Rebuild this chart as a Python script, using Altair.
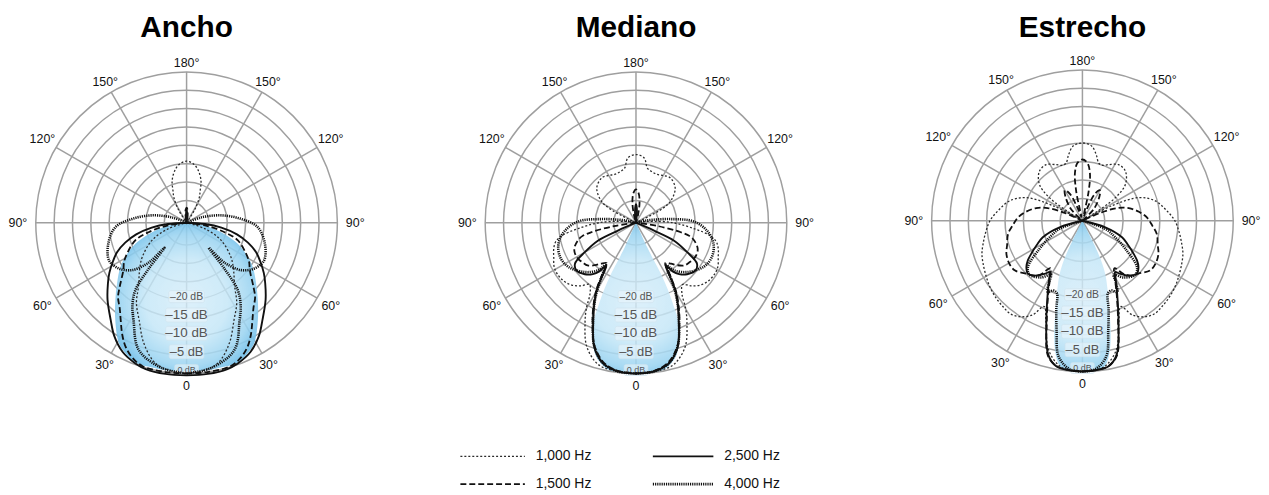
import altair as alt
import pandas as pd

PANELS = ["Ancho", "Mediano", "Estrecho"]
FREQS = ["1,000 Hz", "1,500 Hz", "2,500 Hz", "4,000 Hz"]
RING_DB = [0, -5, -10, -15, -20, -25, -30, -35]
SPOKE_DEG = [0, 30, 60, 90, 120, 150, 180, 210, 240, 270, 300, 330]
SPOKE_LABELS = ["0", "30°", "60°", "90°", "120°", "150°", "180°", "150°", "120°", "90°", "60°", "30°"]
DB_LABEL_VALUES = [0, -5, -10, -15, -20]
DB_LABELS = ["0 dB", "–5 dB", "–10 dB", "–15 dB", "–20 dB"]

# half patterns: (angle in degrees from front, level in dB), 0..180, mirrored for 180..360
ANCHO_1000 = [(0, 0), (6, -0.5), (12.6, -1.9), (19.6, -6.3), (26, -11.6), (32, -15.3), (37, -19.3),
              (45, -23), (52, -25.7), (63, -30.5), (72, -35.9), (80, -42), (90, -42), (140, -42),
              (148, -37), (153, -33.5), (157, -31.6), (161, -29), (167, -26.6), (173, -25), (180, -24.3)]
ANCHO_1500 = [(0, 0), (8, 0), (17, -0.2), (22, -1.5), (26.3, -3.5), (30, -6), (34, -9), (38, -11.5),
              (42.6, -13.5), (46, -15.7), (53, -19.5), (58, -21), (63, -23), (71, -26.3), (76, -30.4),
              (82, -36), (88, -42), (165, -42), (172, -39), (176, -37.5), (180, -37)]
ANCHO_2500 = [(0, 0.5), (8, 0.5), (15.6, 0.3), (20, -0.3), (26.3, -1.8), (32.6, -4.5), (38, -7.5),
              (45.7, -11), (52.3, -14), (57, -16), (62, -18.3), (67, -20.5), (72, -23.5), (77, -27),
              (82, -31.5), (86, -36), (90, -42), (168, -42), (174, -39.5), (180, -37.3)]
ANCHO_4000 = [(0, 0), (10, -1), (20.7, -4.1), (28.6, -10.9), (33, -14), (37.2, -18), (39.5, -25),
              (41.5, -32), (43, -27), (44.5, -25), (49, -21.4), (56, -18.8), (64, -17.6), (75, -19),
              (86.5, -21.7), (94, -26.2), (102, -31.4), (110, -36.8), (118, -42), (180, -42)]

MEDIANO_1000 = [(0, 0), (8, -0.3), (14.9, -1.1), (21.7, -4.8), (26.9, -10.4), (30, -14), (33, -18.1),
                (37, -20), (41, -18.3), (45.8, -16.7), (51, -15.8), (57.2, -15.5), (62, -15.8),
                (67.3, -16.8), (72, -17.5), (76.4, -18.5), (80, -20.5), (84, -25), (90, -31), (97, -38),
                (104, -42), (112, -42), (118, -33), (122.4, -29.8), (131.6, -26.8), (142.5, -25.7),
                (150, -26.2), (156.1, -26.7), (163, -26.5), (168.2, -25.9), (172.8, -23.3), (180, -22.5)]
MEDIANO_1500 = [(0, 0), (7, -0.4), (13, -2), (18.7, -5.8), (23.6, -11.5), (27, -15.5), (30.3, -19.5),
                (33, -24), (36, -27.5), (40.5, -26.4), (44, -25), (48.6, -23.5), (53, -23), (58, -22.5),
                (64, -22.5), (68, -23), (73, -24.5), (76, -26), (78, -28.6), (81.3, -35), (86, -42),
                (160, -42), (165, -39), (170, -35.5), (175, -33), (180, -32)]
MEDIANO_2500 = [(0, 0), (7, -0.3), (13.3, -1.8), (18.7, -5.5), (23.6, -12), (27, -16), (30.3, -20),
                (33.4, -25.7), (35, -27), (37, -24.5), (40, -22.8), (44.8, -21.3), (51.3, -20.3),
                (56.2, -21.1), (60.1, -25), (64.8, -29.6), (66.4, -35.7), (72, -42), (170, -42),
                (175, -38), (180, -36)]
MEDIANO_4000 = [(0, 0), (7, -0.3), (13.3, -1.8), (18.7, -5.6), (23.6, -11.8), (27, -16), (30.3, -20.5),
                (33, -24.5), (35.5, -27), (38.6, -24.5), (46.1, -21.7), (56.8, -19.1), (65.6, -18.4),
                (74.8, -19.2), (83.6, -21.6), (91.3, -25.4), (96, -31.6), (102, -38), (108, -42), (180, -42)]

ESTRECHO_1000 = [(0, 0), (6, -0.3), (10, -1.5), (15, -5), (20, -12), (24, -15.5), (28, -12), (33.3, -9.8),
                 (38, -9), (42.7, -9.2), (48, -9.5), (54.5, -10.1), (60, -10.8), (66.6, -11.6), (72, -12.3),
                 (76.9, -13.3), (83, -14.5), (90, -15.9), (97, -18), (105.2, -20.5), (112.2, -24.4),
                 (117, -32), (120, -42), (122, -37), (125, -30.1), (130.3, -25.7), (139.1, -23.2),
                 (147.2, -22.9), (154.9, -24.2), (160, -25), (164.1, -24.8), (168, -22.8), (172.4, -20.7),
                 (176, -20.1), (180, -19.9)]
ESTRECHO_1500 = [(0, 0), (6, -0.3), (10, -0.8), (14.4, -3.2), (19.5, -12), (25.5, -19.5), (30, -23.5),
                 (34, -25.5), (38, -22.5), (42, -21), (46.7, -20.1), (53.8, -18.2), (60, -18), (66.5, -18.5),
                 (72, -19.5), (79.9, -20.5), (86, -22), (92.9, -23.5), (99, -25.5), (105.2, -28), (110, -31),
                 (114, -36), (118, -42), (130, -42), (136, -36.5), (145, -33), (150, -31.5), (155, -33),
                 (160, -38), (164, -40), (168, -33), (171, -28), (175, -25.3), (180, -24.4)]
ESTRECHO_2500 = [(0, 0), (5, -0.2), (10.2, -0.8), (14.4, -3.5), (19.5, -11.6), (25.5, -19.1), (30, -23),
                 (32.5, -24.5), (35, -23.5), (38.2, -22.2), (42, -21), (45.9, -20.4), (50.5, -21.3),
                 (54, -22.7), (57.2, -24.5), (62, -27), (67.4, -29.4), (74, -34.6), (80, -42), (180, -42)]
ESTRECHO_4000 = [(0, 0), (5, -0.5), (10, -3.6), (13.3, -10.5), (16.5, -16), (19.3, -20.1), (22.5, -20.5),
                 (26, -19.5), (28.5, -22), (30.2, -24.1), (36, -22), (44.5, -20.5), (49.7, -21.6),
                 (56.8, -27.1), (63, -31), (70.4, -34.4), (78, -42), (180, -42)]

# shaded main-lobe outlines, from the front (0) up to the apex at the centre
FILL_ANCHO = [(0, -0.5), (5, -0.5), (10, -0.5), (15, -0.5), (20, -0.5), (25, -1.8), (29.4, -3.5),
              (36.2, -8.2), (42.6, -12.4), (49, -16), (56.2, -19.4), (62, -22.6), (67.6, -26),
              (72.5, -29.6), (77.4, -33.3), (82, -37), (86, -42)]
FILL_MEDIANO = [(0, 0), (5, -0.1), (10.8, -0.4), (14.5, -1.8), (17.6, -3.9), (21.3, -8.8), (23.5, -12.5),
                (24.3, -15.9), (25.5, -21), (26, -25.7), (25.3, -30), (24.6, -33.8), (24, -42)]
FILL_ESTRECHO = [(0, 0), (4, -0.1), (7, -0.3), (9, -1.2), (11, -3.5), (13.5, -8), (15.3, -12.2),
                 (16.3, -14.9), (18.5, -18.5), (20.6, -21.9), (23, -25), (24.8, -28.2), (26, -32),
                 (26.6, -35), (27, -42)]

CURVES = {
    ("Ancho", "1,000 Hz"): ANCHO_1000, ("Ancho", "1,500 Hz"): ANCHO_1500,
    ("Ancho", "2,500 Hz"): ANCHO_2500, ("Ancho", "4,000 Hz"): ANCHO_4000,
    ("Mediano", "1,000 Hz"): MEDIANO_1000, ("Mediano", "1,500 Hz"): MEDIANO_1500,
    ("Mediano", "2,500 Hz"): MEDIANO_2500, ("Mediano", "4,000 Hz"): MEDIANO_4000,
    ("Estrecho", "1,000 Hz"): ESTRECHO_1000, ("Estrecho", "1,500 Hz"): ESTRECHO_1500,
    ("Estrecho", "2,500 Hz"): ESTRECHO_2500, ("Estrecho", "4,000 Hz"): ESTRECHO_4000,
}
FILLS = {"Ancho": FILL_ANCHO, "Mediano": FILL_MEDIANO, "Estrecho": FILL_ESTRECHO}

STYLE = {
    "1,000 Hz": dict(strokeDash=[2, 2], strokeWidth=1.3, color="#2b2b2b"),
    "1,500 Hz": dict(strokeDash=[6, 3], strokeWidth=1.8, color="#111111"),
    "2,500 Hz": dict(strokeWidth=1.9, color="#111111"),
    "4,000 Hz": dict(strokeDash=[1.2, 1], strokeWidth=2.6, color="#111111"),
}

# ---------- tables ----------
curve_rows = []
for (panel, freq), half in CURVES.items():
    full = list(half) + [(360 - a, d) for a, d in reversed(half[1:-1])] + [(360, half[0][1])]
    for k, (a, d) in enumerate(full):
        curve_rows.append({"p": PANELS.index(panel), "freq": freq, "key": panel + freq,
                           "ang": a, "db": d, "ord": k})
curve_df = pd.DataFrame(curve_rows)

fill_rows = []
for panel, pts in FILLS.items():
    for k, (a, d) in enumerate(pts):
        fill_rows.append({"p": PANELS.index(panel), "ang": a, "db": d, "ord": k})
fill_df = pd.DataFrame(fill_rows)

ring_df = pd.DataFrame([{"p": i, "db": d} for i in range(3) for d in RING_DB])
spoke_df = pd.DataFrame([{"p": i, "ang": a, "lab": l, "db": 0}
                         for i in range(3) for a, l in zip(SPOKE_DEG, SPOKE_LABELS)])
dblab_df = pd.DataFrame([{"p": i, "db": d, "lab": l, "i": j}
                         for i in range(3) for j, (d, l) in enumerate(zip(DB_LABEL_VALUES, DB_LABELS))])
title_df = pd.DataFrame([{"p": i, "name": n} for i, n in enumerate(PANELS)])
legend_df = pd.DataFrame([{"freq": f, "i": i} for i, f in enumerate(FREQS)])

H = 487
CX = "[185, 638, 1088][datum.p]"
CY = "[222.5, 222.5, 220.5][datum.p]"
RAD = "max(0, 152 + 3.7*datum.db)"
XS = alt.Scale(domain=[8, 1261], nice=False, zero=False)
YS = alt.Scale(domain=[8, 8 + H], nice=False, zero=False, reverse=True)


def X(f="x"):
    return alt.X(f"{f}:Q", scale=XS, axis=None)


def Y(f="y"):
    return alt.Y(f"{f}:Q", scale=YS, axis=None)


def centre(ch):
    return ch.transform_calculate(cx=CX).transform_calculate(cy=CY)


def polar(ch):
    return (centre(ch)
            .transform_calculate(t="datum.ang*PI/180")
            .transform_calculate(r=RAD)
            .transform_calculate(x="datum.cx + datum.r*sin(datum.t)")
            .transform_calculate(y="datum.cy + datum.r*cos(datum.t)"))


GRID = "#9f9f9f"

rings = (centre(alt.Chart(ring_df))
         .transform_calculate(r=RAD)
         .transform_calculate(sz="4*datum.r*datum.r", x="datum.cx", y="datum.cy")
         .mark_point(shape="circle", filled=False, stroke=GRID, strokeWidth=1.5, opacity=1)
         .encode(x=X(), y=Y(), size=alt.Size("sz:Q", scale=None)))

spokes = (polar(alt.Chart(spoke_df))
          .transform_calculate(x0="datum.cx", y0="datum.cy")
          .mark_rule(color=GRID, strokeWidth=1.5)
          .encode(x=X("x0"), y=Y("y0"), x2="x:Q", y2="y:Q"))

grad = alt.Gradient(
    gradient="radial",
    x1=0.5, y1=0.52, r1=0, x2=0.5, y2=0.52, r2=0.55,
    stops=[alt.GradientStop(offset=0, color="rgba(212,236,249,0.8)"),
           alt.GradientStop(offset=0.5, color="rgba(195,230,247,0.82)"),
           alt.GradientStop(offset=0.8, color="rgba(155,212,241,0.87)"),
           alt.GradientStop(offset=1, color="rgba(108,188,232,0.92)")])

fills = (polar(alt.Chart(fill_df))
         .transform_calculate(xl="datum.cx - datum.r*sin(datum.t)", xr="datum.cx + datum.r*sin(datum.t)")
         .mark_area(orient="horizontal", interpolate="catmull-rom", color=grad)
         .encode(y=Y(), x=X("xl"), x2="xr:Q", detail="p:N"))

dbbase = (centre(alt.Chart(dblab_df))
          .transform_calculate(r=RAD)
          .transform_calculate(x="datum.cx", y="datum.cy + datum.r - 3.5")
          .transform_calculate(hw="[12, 17.5, 21, 21, 18][datum.i]", hh="[5.5, 7, 7, 7, 6][datum.i]",
                               fs="[9, 13, 13.5, 13.5, 10.5][datum.i]")
          .transform_calculate(bx1="datum.x - datum.hw", bx2="datum.x + datum.hw",
                               by1="datum.y - datum.hh", by2="datum.y + datum.hh"))
boxes = dbbase.mark_rect(fill="#e9f5fb", fillOpacity=0.6, stroke="#d0e3ec", strokeWidth=0.6,
                         cornerRadius=2).encode(x=X("bx1"), x2="bx2:Q", y=Y("by1"), y2="by2:Q")
dbtext = dbbase.mark_text(font="Liberation Sans", color="#555555", baseline="middle", align="center").encode(
    x=X(), y=Y(), text="lab:N", size=alt.Size("fs:Q", scale=None))

curve_layers = []
for f in FREQS:
    curve_layers.append(
        polar(alt.Chart(curve_df).transform_filter(alt.datum.freq == f))
        .mark_line(interpolate="catmull-rom", **STYLE[f])
        .encode(x=X(), y=Y(), order="ord:Q", detail="key:N"))

angle_labels = (centre(alt.Chart(spoke_df))
                .transform_calculate(t="datum.ang*PI/180")
                .transform_calculate(rl="165 + 5*pow(abs(sin(datum.t)),4) - 4*pow(max(0,-cos(datum.t)),8)")
                .transform_calculate(x="datum.cx + datum.rl*sin(datum.t)", y="datum.cy + datum.rl*cos(datum.t)")
                .mark_text(font="Liberation Sans", fontSize=12.5, color="#111111", baseline="middle", align="center")
                .encode(x=X(), y=Y(), text="lab:N"))

titles = (centre(alt.Chart(title_df))
          .transform_calculate(x="datum.cx", y="35")
          .mark_text(font="Liberation Sans", fontSize=30, fontWeight="bold", baseline="alphabetic",
                     align="center", color="#000000")
          .encode(x=X(), y=Y(), text="name:N"))

legbase = (alt.Chart(legend_df)
           .transform_calculate(col="floor(datum.i/2)", row="datum.i % 2")
           .transform_calculate(x="461 + 194*datum.col", xe="526 + 190*datum.col",
                                y="458 + 28*datum.row", tx="537 + 190*datum.col"))
leg_layers = []
for f in FREQS:
    leg_layers.append(
        legbase.transform_filter(alt.datum.freq == f)
        .mark_rule(**STYLE[f])
        .encode(x=X(), x2="xe:Q", y=Y()))
leg_text = (legbase.mark_text(font="Liberation Sans", fontSize=14, color="#111111", align="left",
                              baseline="middle")
            .encode(x=X("tx"), y=Y(), text="freq:N"))

chart = (alt.layer(rings, spokes, fills, boxes, dbtext, *curve_layers, angle_labels, titles,
                   *leg_layers, leg_text)
         .properties(width=1253, height=H, padding=0)
         .configure_view(stroke=None))

chart.save("out.html", embed_options={"renderer": "svg", "actions": False})
